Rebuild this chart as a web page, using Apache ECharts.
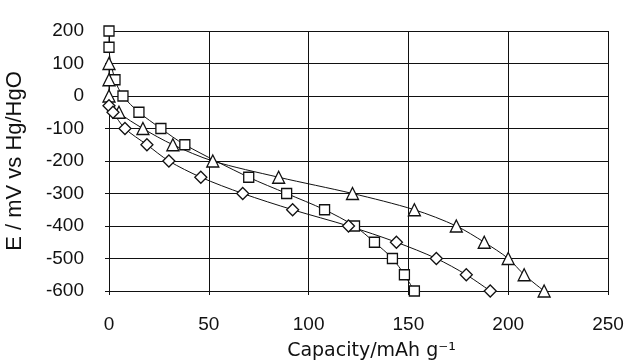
<!DOCTYPE html>
<html>
<head>
<meta charset="utf-8">
<script src="https://cdn.jsdelivr.net/npm/echarts@6/dist/echarts.min.js"></script>
<style>
  html, body { margin: 0; padding: 0; background: #fff; }
  #chart { width: 626px; height: 363px; }
</style>
</head>
<body>
<div id="chart"></div>
<script>
// capacity (mAh/g) and potential (mV)
const squareCap = [0, 0, 3, 7, 15, 26, 38, 70, 89, 108, 123, 133, 142, 148, 153];
const squareE = [200, 150, 50, 0, -50, -100, -150, -250, -300, -350, -400, -450, -500, -550, -600];

const triangleCap = [0, 0, 0, 5, 17, 32, 52, 85, 122, 153, 174, 188, 200, 208, 218];
const triangleE = [100, 50, 0, -50, -100, -150, -200, -250, -300, -350, -400, -450, -500, -550, -600];

const diamondCap = [0, 2, 8, 19, 30, 46, 67, 92, 120, 144, 164, 179, 191];
const diamondE = [-30, -50, -100, -150, -200, -250, -300, -350, -400, -450, -500, -550, -600];

const xTicks = [0, 50, 100, 150, 200, 250];
const yTicks = [-600, -500, -400, -300, -200, -100, 0, 100, 200];

const pairs = (xs, ys) => xs.map((x, i) => [x, ys[i]]);

const font = "Liberation Sans, Arial, sans-serif";

function series(name, cap, e, symbol, size) {
  return {
    name: name,
    type: "line",
    smooth: 0.3,
    data: pairs(cap, e),
    symbol: symbol,
    symbolSize: size,
    showAllSymbol: true,
    lineStyle: { color: "#111", width: 1 },
    itemStyle: { color: "#fff", borderColor: "#111", borderWidth: 1.3 },
  };
}

const option = {
  animation: false,
  backgroundColor: "#fff",
  grid: { left: 109, right: 18, top: 31, bottom: 72, containLabel: false, outerBoundsMode: "none" },
  xAxis: {
    type: "value",
    min: xTicks[0],
    max: xTicks[xTicks.length - 1],
    interval: 50,
    name: "Capacity/mAh g\u207B\u00B9",
    nameLocation: "middle",
    nameGap: 51,
    nameTextStyle: { fontFamily: "DejaVu Sans, sans-serif", fontSize: 19, color: "#111", padding: [0, 0, 0, 26] },
    axisLine: { onZero: false, lineStyle: { color: "#111", width: 1 } },
    axisTick: { show: true, length: 4, inside: false, lineStyle: { color: "#111" } },
    axisLabel: { fontFamily: font, fontSize: 19, color: "#111", margin: 24 },
    splitLine: { show: true, lineStyle: { color: "#111", width: 1 } },
  },
  yAxis: {
    type: "value",
    min: yTicks[0],
    max: yTicks[yTicks.length - 1],
    interval: 100,
    name: "E / mV vs Hg/HgO",
    nameLocation: "middle",
    nameGap: 83,
    nameTextStyle: { fontFamily: font, fontSize: 22, color: "#111" },
    axisLine: { onZero: false, lineStyle: { color: "#111", width: 1 } },
    axisTick: { show: true, length: 4, inside: false, lineStyle: { color: "#111" } },
    axisLabel: { fontFamily: font, fontSize: 19, color: "#111", margin: 25 },
    splitLine: { show: true, lineStyle: { color: "#111", width: 1 } },
  },
  series: [
    series("square", squareCap, squareE, "rect", 10),
    series("triangle", triangleCap, triangleE, "triangle", 12),
    series("diamond", diamondCap, diamondE, "diamond", 12),
  ],
};

const chart = echarts.init(document.getElementById("chart"));
chart.setOption(option);
</script>
</body>
</html>
